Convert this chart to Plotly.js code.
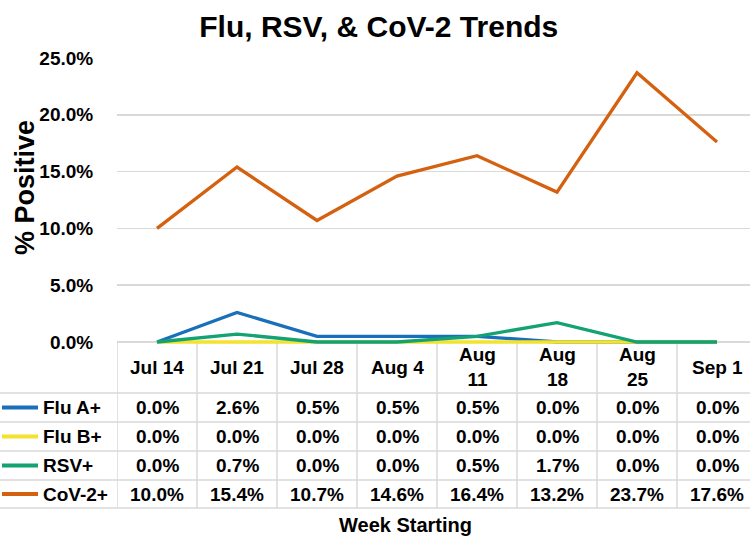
<!DOCTYPE html>
<html>
<head>
<meta charset="utf-8">
<script src="https://cdn.plot.ly/plotly-3.0.1.min.js"></script>
<style>html,body{margin:0;padding:0;background:#fff;}#chart{width:750px;height:536px;}</style>
</head>
<body>
<div id="chart"></div>
<script>
// ---- data ----
const categories = ['Jul 14', 'Jul 21', 'Jul 28', 'Aug 4', 'Aug 11', 'Aug 18', 'Aug 25', 'Sep 1'];
const headerLabels = ['Jul 14', 'Jul 21', 'Jul 28', 'Aug 4', 'Aug<br>11', 'Aug<br>18', 'Aug<br>25', 'Sep 1'];
const fluA = [0.0, 2.6, 0.5, 0.5, 0.5, 0.0, 0.0, 0.0];
const fluB = [0.0, 0.0, 0.0, 0.0, 0.0, 0.0, 0.0, 0.0];
const rsv = [0.0, 0.7, 0.0, 0.0, 0.5, 1.7, 0.0, 0.0];
const cov2 = [10.0, 15.4, 10.7, 14.6, 16.4, 13.2, 23.7, 17.6];
const seriesNames = ['Flu A+', 'Flu B+', 'RSV+', 'CoV-2+'];
const seriesValues = [fluA, fluB, rsv, cov2];
const yTicks = [0, 5, 10, 15, 20, 25];
const yTickLabels = ['0.0%', '5.0%', '10.0%', '15.0%', '20.0%', '25.0%'];
const chartTitle = 'Flu, RSV, &amp; CoV-2 Trends';
const yTitle = '% Positive';
const xTitle = 'Week Starting';

// ---- styles ----
const colors = ['#1A6FBB', '#F3E22E', '#13A273', '#D4610F'];
const FONT = 'Liberation Sans, Arial, sans-serif';
const gridColor = '#D9D9D9';
const W = 750, Hh = 536;
const L = 117, T = 58, PH = 286, PW = W - L;
const px = p => (p - L) / PW;        // pixel x -> paper x
const py = p => (T + PH - p) / PH;   // pixel y -> paper y

const rowEdges = [393, 422, 451, 480, 508];
const rowCenters = [407.5, 436.5, 465.5, 494];

const traces = seriesValues.map((vals, k) => ({
  type: 'scatter', mode: 'lines', x: categories, y: vals, name: seriesNames[k],
  line: {color: colors[k], width: 3.3}, hoverinfo: 'skip', showlegend: false
}));

const shapes = [];
// table top border (header row)
shapes.push({type: 'line', xref: 'paper', yref: 'paper', x0: 0, x1: 1, y0: py(342), y1: py(342),
  line: {color: gridColor, width: 1.5}, layer: 'below'});
rowEdges.forEach(e => shapes.push({type: 'line', xref: 'paper', yref: 'paper', x0: px(0), x1: 1,
  y0: py(e), y1: py(e), line: {color: gridColor, width: 1.5}, layer: 'below'}));
// column borders
for (let i = 0; i < categories.length; i++) {
  shapes.push({type: 'line', xref: 'x', yref: 'paper', x0: i - 0.5, x1: i - 0.5,
    y0: py(342), y1: py(508), line: {color: gridColor, width: 1.5}, layer: 'below'});
}
// legend keys
rowCenters.forEach((c, k) => shapes.push({type: 'line', xref: 'paper', yref: 'paper',
  x0: px(2), x1: px(38), y0: py(c), y1: py(c), line: {color: colors[k], width: 4}}));

const annotations = [];
const cellFont = {family: FONT, size: 19, color: '#000', weight: 'bold'};
headerLabels.forEach((h, i) => annotations.push({xref: 'x', yref: 'paper', x: i, y: py(367),
  text: h, showarrow: false, xanchor: 'center', yanchor: 'middle', font: cellFont}));
seriesValues.forEach((vals, k) => {
  annotations.push({xref: 'paper', yref: 'paper', x: px(41), y: py(rowCenters[k]), text: seriesNames[k],
    showarrow: false, xanchor: 'left', yanchor: 'middle', font: cellFont});
  vals.forEach((v, i) => annotations.push({xref: 'x', yref: 'paper', x: i, y: py(rowCenters[k]),
    text: v.toFixed(1) + '%', showarrow: false, xanchor: 'center', yanchor: 'middle', font: cellFont}));
});
annotations.push({xref: 'paper', yref: 'paper', x: px(405), y: py(525), text: xTitle, showarrow: false,
  xanchor: 'center', yanchor: 'middle', font: {family: FONT, size: 20, color: '#000', weight: 'bold'}});
annotations.push({xref: 'paper', yref: 'paper', x: px(25), y: py(188), text: yTitle, showarrow: false,
  textangle: -90, xanchor: 'center', yanchor: 'middle', font: {family: FONT, size: 27, color: '#000', weight: 'bold'}});

const layout = {
  width: W, height: Hh,
  margin: {l: L, r: 0, t: T, b: Hh - T - PH, pad: 0},
  paper_bgcolor: '#fff', plot_bgcolor: '#fff',
  title: {text: '<b>' + chartTitle + '</b>', x: 0.505, xref: 'container', xanchor: 'center',
    y: 1 - 26 / Hh, yref: 'container', yanchor: 'middle',
    font: {family: FONT, size: 30, color: '#000'}},
  xaxis: {type: 'category', range: [-0.5, -0.5 + PW / 80], showgrid: false, zeroline: false,
    showline: false, showticklabels: false, ticks: '', fixedrange: true},
  yaxis: {range: [-2 / 11.36, 25], tickmode: 'array', tickvals: yTicks, ticktext: yTickLabels,
    showgrid: true, gridcolor: gridColor, gridwidth: 1.5, zeroline: false, showline: false,
    ticks: 'outside', ticklen: 19, tickcolor: 'rgba(0,0,0,0)',
    tickfont: {family: FONT, size: 19, color: '#000', weight: 'bold'}, fixedrange: true},
  shapes: shapes,
  annotations: annotations
};

Plotly.newPlot('chart', traces, layout, {displayModeBar: false, staticPlot: true});
</script>
</body>
</html>
